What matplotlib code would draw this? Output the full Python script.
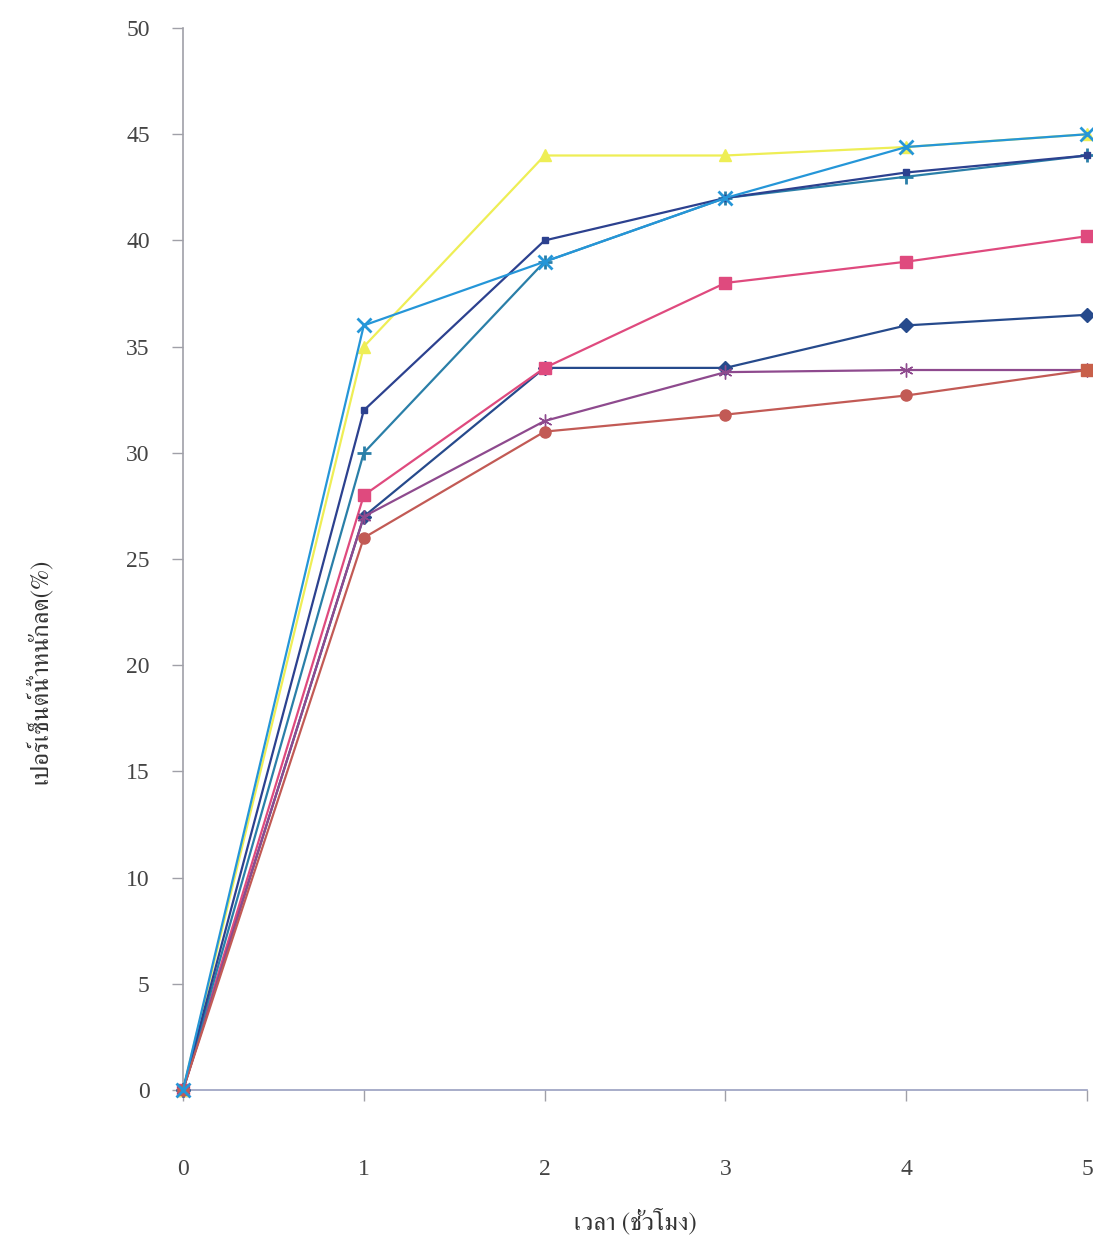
import matplotlib
matplotlib.use("Agg")
import matplotlib.pyplot as plt
from matplotlib import font_manager
from matplotlib.ft2font import FT2Font

# ---- data ----
hours = [0, 1, 2, 3, 4, 5]
x_ticks = [0, 1, 2, 3, 4, 5]
y_ticks = [0, 5, 10, 15, 20, 25, 30, 35, 40, 45, 50]
s_diamond = [0, 27.0, 34.0, 34.0, 36.0, 36.5]
s_square = [0, 28.0, 34.0, 38.0, 39.0, 40.2]
s_triangle = [0, 35.0, 44.0, 44.0, 44.4, 45.0]
s_x = [0, 36.0, 39.0, 42.0, 44.4, 45.0]
s_star = [0, 27.0, 31.5, 33.8, 33.9, 33.9]
s_circle = [0, 26.0, 31.0, 31.8, 32.7, 33.9]
s_plus = [0, 30.0, 39.0, 42.0, 43.0, 44.0]
s_dash = [0, 32.0, 40.0, 42.0, 43.2, 44.0]
x_label = "เวลา (ชั่วโมง)"
y_label = "เปอร์เซ็นต์น้ำหนักลด(%)"

# ---- find a font with Thai glyphs ----
thai_font = None
for f in font_manager.fontManager.ttflist:
    try:
        cm = FT2Font(f.fname).get_charmap()
        if 0x0E01 in cm and 0x0E49 in cm:
            thai_font = f.name
            if "Serif" in f.name or "Sans" in f.name:
                break
    except Exception:
        pass
thai_family = [thai_font, "DejaVu Sans"] if thai_font else ["DejaVu Sans"]

fig = plt.figure(figsize=(10.93, 12.36), dpi=100)
ax = fig.add_axes([0.1674, 0.1181, 0.8272, 0.8592])

series = [
    (s_diamond, "#264a8c", "D", 7),
    (s_square, "#df4a7e", "s", 8),
    (s_triangle, "#eeee55", "^", 8),
    (s_star, "#8e4a8e", (6, 2, 0), 10),
    (s_plus, "#2a7fa8", "+", 10),
    (s_dash, "#2c418f", "s", 4),
    (s_circle, "#c25a55", "o", 8),
    (s_x, "#2596d8", "x", 10),
]
for vals, col, mk, ms in series:
    ax.plot(hours, vals, color=col, lw=1.6, marker=mk, markersize=ms,
            markeredgewidth=2 if mk in ("x", "+") else 1, markeredgecolor=col,
            markerfacecolor=col, clip_on=False, zorder=3)
# last point of the brownish series shows a square marker
ax.plot(hours[-1:], s_circle[-1:], linestyle="none", marker="s", markersize=9,
        color="#c8604a", clip_on=False, zorder=4)

ax.set_xlim(0, 5)
ax.set_ylim(0, 50)
ax.set_xticks(x_ticks)
ax.set_yticks(y_ticks)
ax.set_xticklabels([str(v) for v in x_ticks])
ax.set_yticklabels([str(v) for v in y_ticks])
for sp in ["top", "right"]:
    ax.spines[sp].set_visible(False)
ax.spines["left"].set_color("#a0a0a8")
ax.spines["bottom"].set_color("#9aa0c0")
ax.spines["left"].set_linewidth(1.2)
ax.spines["bottom"].set_linewidth(1.2)
ax.tick_params(axis="y", direction="out", length=8, width=1, color="#a0a0a8",
               labelsize=17, labelcolor="#444444", pad=16)
ax.tick_params(axis="x", direction="out", length=8, width=1, color="#a0a0a8",
               labelsize=17, labelcolor="#444444", pad=42)
for lab in ax.get_xticklabels() + ax.get_yticklabels():
    lab.set_family("Liberation Serif")

ax.set_xlabel(x_label, family=thai_family, fontsize=18, color="#333333")
ax.set_ylabel(y_label, family=thai_family, fontsize=18, color="#333333")
ax.xaxis.set_label_coords(0.5, -0.124)
ax.yaxis.set_label_coords(-0.158, 0.394)
ax.xaxis.label.set_va("center")
ax.yaxis.label.set_va("center")
ax.set_facecolor("white")

fig.savefig("out.png", dpi=100)
